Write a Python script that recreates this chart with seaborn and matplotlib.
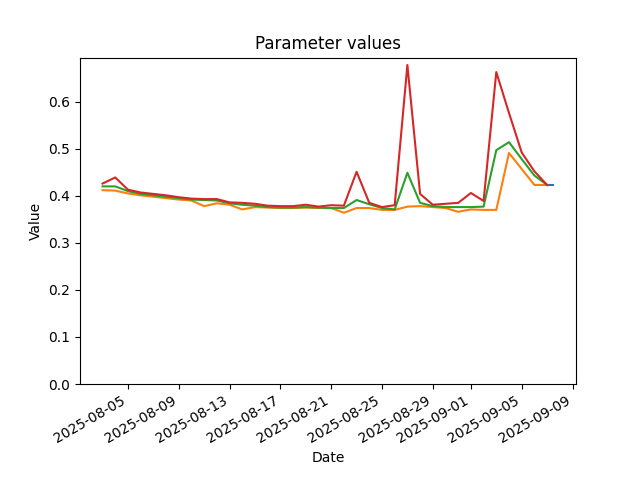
import pandas as pd
import numpy as np
import matplotlib
matplotlib.use("Agg")
import matplotlib.pyplot as plt
import seaborn as sns

# DATA
dates = pd.date_range("2025-08-03", "2025-09-07", freq="D")

orange_vals = [0.412, 0.411, 0.405, 0.401, 0.398, 0.395, 0.392, 0.390, 0.378,
               0.384, 0.381, 0.371, 0.376, 0.375, 0.374, 0.374, 0.375, 0.374,
               0.374, 0.364, 0.374, 0.374, 0.370, 0.370, 0.377, 0.378, 0.376,
               0.374, 0.366, 0.371, 0.370, 0.370, 0.491, 0.457, 0.423, 0.423]

green_vals = [0.420, 0.420, 0.410, 0.404, 0.401, 0.398, 0.395, 0.392, 0.391,
              0.390, 0.384, 0.381, 0.379, 0.376, 0.375, 0.375, 0.376, 0.375,
              0.374, 0.374, 0.391, 0.382, 0.374, 0.371, 0.449, 0.385, 0.378,
              0.376, 0.376, 0.376, 0.377, 0.497, 0.514, 0.478, 0.443, 0.423]

red_vals = [0.426, 0.439, 0.413, 0.407, 0.404, 0.401, 0.397, 0.394, 0.393,
            0.393, 0.386, 0.385, 0.383, 0.379, 0.378, 0.378, 0.381, 0.377,
            0.380, 0.379, 0.451, 0.385, 0.376, 0.380, 0.678, 0.404, 0.381,
            0.383, 0.385, 0.406, 0.389, 0.663, 0.576, 0.492, 0.452, 0.423]

blue_times = pd.to_datetime(["2025-09-07 00:00", "2025-09-07 12:00"])
blue_vals = [0.422, 0.422]

series_names = ["a", "b", "c", "d"]

# long-form table for seaborn
df = pd.concat([
    pd.DataFrame({"Date": blue_times, "Value": blue_vals, "param": series_names[0]}),
    pd.DataFrame({"Date": dates, "Value": orange_vals, "param": series_names[1]}),
    pd.DataFrame({"Date": dates, "Value": green_vals, "param": series_names[2]}),
    pd.DataFrame({"Date": dates, "Value": red_vals, "param": series_names[3]}),
], ignore_index=True)

fig, ax = plt.subplots(figsize=(6.4, 4.8), dpi=100)
sns.lineplot(
    data=df,
    x="Date",
    y="Value",
    hue="param",
    hue_order=series_names,
    palette=sns.color_palette("tab10", 4),
    legend=False,
    ax=ax,
)
ax.set_ylim(bottom=0)
ax.set_title("Parameter values")
ax.set_xlabel("Date")
ax.set_ylabel("Value")
fig.autofmt_xdate()
fig.savefig("out.png", dpi=100)
plt.close(fig)
